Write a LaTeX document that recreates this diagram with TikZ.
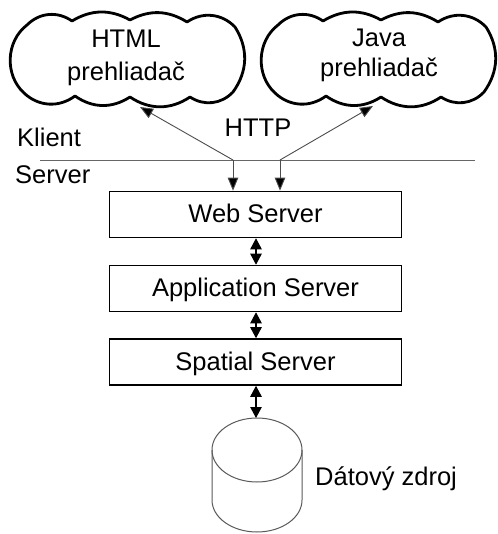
\documentclass[tikz,border=0pt]{standalone}
\usepackage{fontspec}
\setmainfont{Liberation Sans}
\usetikzlibrary{arrows.meta}
\begin{document}
\begin{tikzpicture}[x=1pt,y=-1pt,
  lbl/.style={font=\fontsize{25.5}{30}\selectfont, inner sep=0pt, anchor=base},
  box/.style={draw=black, line width=1.6pt, minimum width=292pt, minimum height=46pt,
    inner sep=0pt, text height=18pt, text depth=2pt, font=\fontsize{25.5}{30}\selectfont},
  cloudline/.style={draw=black, line width=2.8pt, line join=round},
  thinarrow/.style={draw=black!70, line width=0.9pt, -{Triangle[length=13pt,width=10.5pt,fill=black]}},
  dbl/.style={draw=black, line width=1.1pt, {Triangle[length=11pt,width=11.5pt,fill=black]}-{Triangle[length=11pt,width=11.5pt,fill=black]}},
  sepline/.style={draw=black!60, line width=0.8pt},
  cyl/.style={draw=black!65, line width=1pt}]
\useasboundingbox (0,0) rectangle (497,534);

% clouds
\foreach \dx in {0,251}{
\begin{scope}[xshift=\dx pt]
\draw[cloudline] (27,25) to[bend left=40] (72,21) to[bend left=30] (130,20)
  to[bend left=30] (187,22) to[bend left=40] (235,27) to[bend left=34] (233,92)
  to[bend left=40] (190,97) to[bend left=34] (130,97) to[bend left=34] (75,96)
  to[bend left=40] (24,93) to[bend left=50] (27,25) -- cycle;
\end{scope}}

\node[lbl] (htmlA) at (126,48) {HTML};
\node[lbl] (htmlB) at (126,81) {prehliadač};
\node[lbl] (javaA) at (379,47) {Java};
\node[lbl] (javaB) at (379,77) {prehliadač};

\node[lbl, anchor=base west] (klient) at (17,147) {Klient};
\node[lbl, anchor=base west] (server) at (15,184) {Server};
\node[lbl] (http) at (258,137) {HTTP};

% separator
\coordinate (sepL) at (40,160);
\coordinate (sepR) at (475,160);
\draw[sepline] (sepL) -- (sepR);

% boxes
\node[box] (web) at (255.5,214.5) {Web Server};
\node[box] (app) at (255.5,288.5) {Application Server};
\node[box] (spat) at (255.5,362) {Spatial Server};

% client arrows
\coordinate (j1) at (233,160);
\coordinate (t1) at (140,107);
\coordinate (j2) at (280,160);
\coordinate (t2) at (373,106);
\draw[thinarrow] (j1) -- (t1);
\draw[thinarrow] (j1) -- (j1 |- web.north);
\draw[thinarrow] (j2) -- (t2);
\draw[thinarrow] (j2) -- (j2 |- web.north);

% double arrows
\coordinate (db) at (256,418);
\draw[dbl] (web.south -| db) -- (app.north -| db);
\draw[dbl] (app.south -| db) -- (spat.north -| db);
\draw[dbl] (spat.south -| db) -- (db);

% cylinder
\draw[cyl] (257,450) ellipse [x radius=45, y radius=32];
\draw[cyl] (212,450) -- (212,500) arc[start angle=180, end angle=360, x radius=45, y radius=-32] -- (302,450);

\node[lbl, anchor=base west] (dz) at (315,485) {Dátový zdroj};
\end{tikzpicture}
\end{document}
